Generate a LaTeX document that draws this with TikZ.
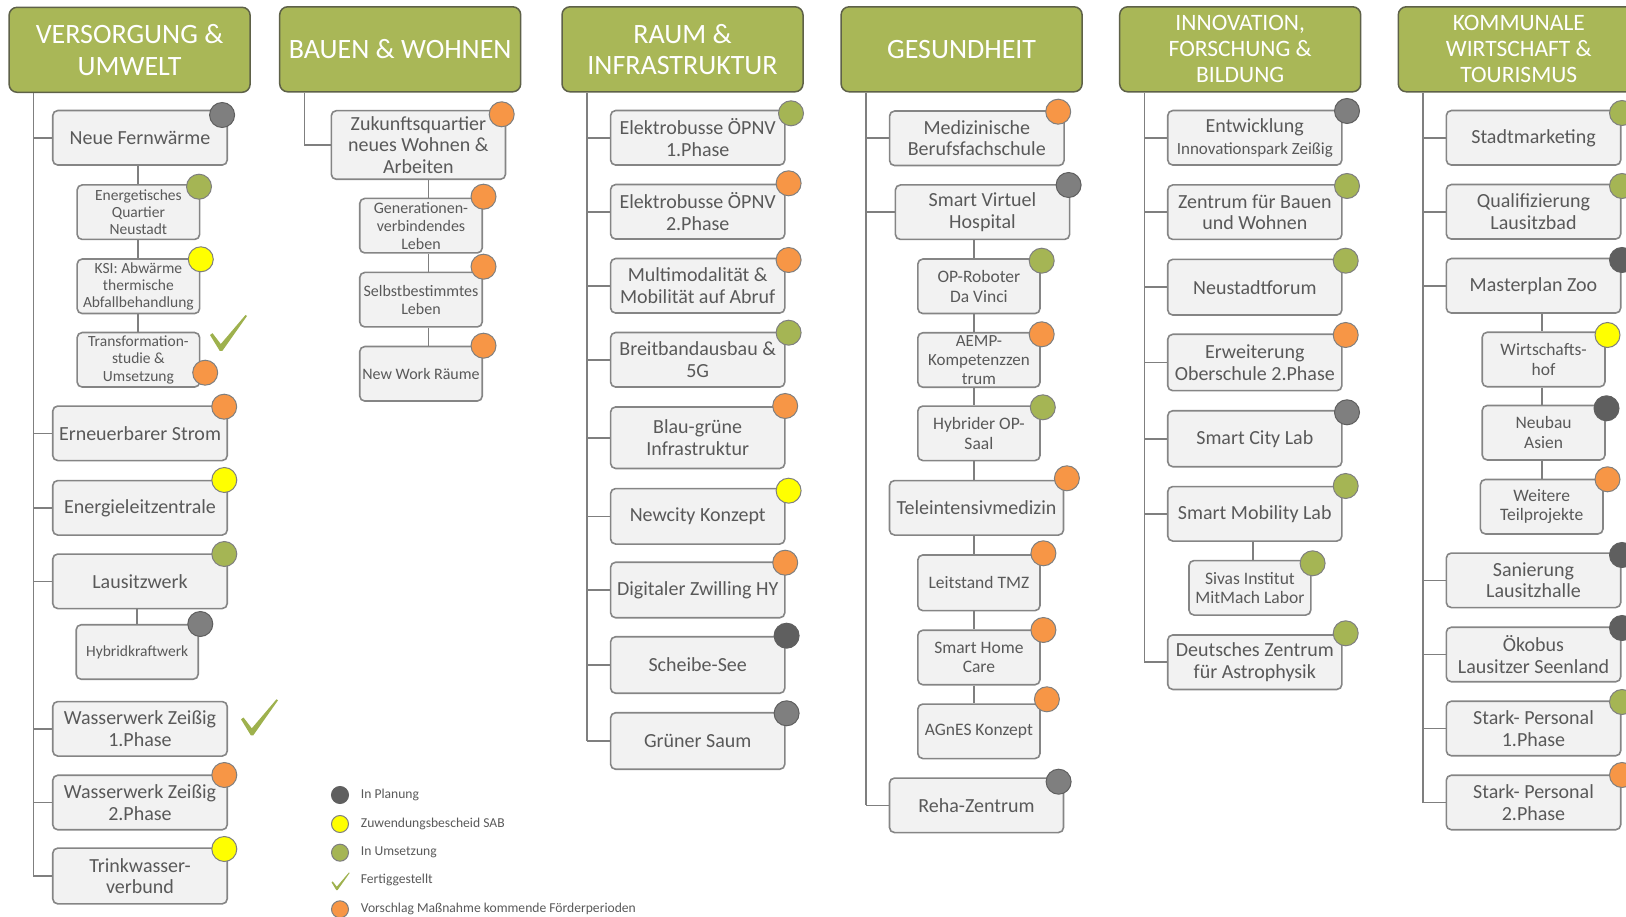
\documentclass[tikz,border=0pt]{standalone}
\usepackage{fontspec}
\setmainfont{Carlito}
\definecolor{hdrgreen}{HTML}{A9B757}
\definecolor{hdrline}{HTML}{5E6148}
\definecolor{dotgreen}{HTML}{A5B554}
\definecolor{dotorange}{HTML}{F79646}
\definecolor{dotyellow}{HTML}{FFFF00}
\definecolor{dotmgray}{HTML}{7F7F7F}
\definecolor{dotdgray}{HTML}{5F5F5F}
\definecolor{boxfill}{HTML}{F2F2F2}
\definecolor{boxline}{HTML}{858585}
\definecolor{linegray}{HTML}{7F7F7F}
\definecolor{txtgray}{HTML}{595959}
\definecolor{checkgreen}{HTML}{9EB14D}
\newcommand\fhdr{\fontsize{28}{31.5}\selectfont}
\newcommand\fhdrs{\fontsize{23.5}{26}\selectfont}
\newcommand\fmain{\fontsize{20}{21.5}\selectfont}
\newcommand\fsubA{\fontsize{15.5}{17.3}\selectfont}
\newcommand\fsubB{\fontsize{16}{18}\selectfont}
\newcommand\fsubC{\fontsize{17.5}{19.5}\selectfont}
\newcommand\fleg{\fontsize{13.6}{15}\selectfont}
\tikzset{
  conn/.style={draw=linegray, line width=1.6},
  hdr/.style={draw=hdrline, line width=1.5, fill=hdrgreen, rounded corners=8,
    minimum width=241, minimum height=85, text=white, align=center, inner sep=2, font=\fhdr},
  mbox/.style={draw=boxline, line width=1.6, fill=boxfill, rounded corners=5,
    minimum width=174.5, minimum height=54.5, align=center, text=txtgray,
    inner xsep=2, inner ysep=1, font=\fmain},
  sbox/.style={mbox, minimum width=122.5},
  dot/.style={circle, draw=dotmgray, line width=1, minimum size=25, inner sep=0},
  dgreen/.style={dot, fill=dotgreen},
  dorange/.style={dot, fill=dotorange},
  dyellow/.style={dot, fill=dotyellow},
  dmgray/.style={dot, fill=dotmgray, draw=dotdgray},
  ddgray/.style={dot, fill=dotdgray, draw=dotdgray},
  ldot/.style={minimum size=17},
  legtext/.style={anchor=west, text=txtgray, font=\fleg, inner sep=0},
  chk/.pic={\fill[checkgreen] (0,20) -- (2.5,18.2) -- (10.8,29) -- (35.5,0) -- (37,1) -- (12.3,36) -- (9.8,36) -- cycle;}
}
\begin{document}
\begin{tikzpicture}[x=1pt, y=-1pt]
\useasboundingbox (0,0) rectangle (1626,917);
\clip (0,0) rectangle (1626,917);

% ---------- headers ----------
\node[hdr] (h1) at (129.6,49.8) {VERSORGUNG \&\\UMWELT};
\node[hdr] (h2) at (400.2,49.3) {BAUEN \& WOHNEN};
\node[hdr] (h3) at (682.5,49.3) {RAUM \&\\INFRASTRUKTUR};
\node[hdr] (h4) at (961.6,49.3) {GESUNDHEIT};
\node[hdr, font=\fhdrs] (h5) at (1240.2,49.3) {INNOVATION,\\FORSCHUNG \&\\BILDUNG};
\node[hdr, font=\fhdrs] (h6) at (1518.8,49.3) {KOMMUNALE\\WIRTSCHAFT \&\\TOURISMUS};

% trunk and chain x positions
\coordinate (t1) at (33.4,0);
\coordinate (t2) at (304.4,0);
\coordinate (t3) at (587.2,0);
\coordinate (t4) at (866.1,0);
\coordinate (t5) at (1144.4,0);
\coordinate (t6) at (1423,0);
\coordinate (c1) at (137.7,0);
\coordinate (c1b) at (136.8,0);
\coordinate (c2) at (428.5,0);
\coordinate (c4) at (973.9,0);
\coordinate (c5) at (1253,0);
\coordinate (c6) at (1542,0);

% ---------- column 1 ----------
\node[mbox] (nf) at (140,137.8) {Neue Fernwärme};
\node[sbox, font=\fsubA] (eq) at (138.4,212.2) {Energetisches\\Quartier\\Neustadt};
\node[sbox, font=\fsubA] (ksi) at (138.4,286.3) {KSI: Abwärme\\thermische\\Abfallbehandlung};
\node[sbox, font=\fsubA] (tr) at (138.4,359.8) {Transformation-\\studie \&\\Umsetzung};
\node[mbox] (er) at (140,433.3) {Erneuerbarer Strom};
\node[mbox] (el) at (140,507.8) {Energieleitzentrale};
\node[mbox] (lw) at (140,581.3) {Lausitzwerk};
\node[sbox, font=\fsubA, minimum width=122] (hk) at (137.2,652) {Hybridkraftwerk};
\node[mbox] (ww1) at (140,728.8) {Wasserwerk Zeißig\\1.Phase};
\node[mbox] (ww2) at (140,802.5) {Wasserwerk Zeißig\\2.Phase};
\node[mbox, minimum height=55.7] (tw) at (140,876) {Trinkwasser-\\verbund};

\draw[conn] (h1.south -| t1) -- (t1 |- tw.west);
\foreach \n in {nf,er,el,lw,ww1,ww2,tw} \draw[conn] (t1 |- \n.west) -- (\n.west);
\draw[conn] (nf.south -| c1) -- (eq.north -| c1);
\draw[conn] (eq.south -| c1) -- (ksi.north -| c1);
\draw[conn] (ksi.south -| c1) -- (tr.north -| c1);
\draw[conn] (lw.south -| c1b) -- (hk.north -| c1b);

\node[dmgray] (nf-d) at (222.1,115) {};
\node[dgreen] (eq-d) at (199,186.7) {};
\node[dyellow] (ksi-d) at (200.8,259.3) {};
\node[dorange] (tr-d) at (205.2,372.7) {};
\node[dorange] (er-d) at (224.2,406.7) {};
\node[dyellow] (el-d) at (224.3,480) {};
\node[dgreen] (lw-d) at (224.3,554) {};
\node[dmgray] (hk-d) at (200.3,624) {};
\node[dorange] (ww2-d) at (224.3,775) {};
\node[dyellow] (tw-d) at (224.3,849) {};
\pic at (210,315) {chk};
\pic at (241,699.3) {chk};

% ---------- column 2 ----------
\node[mbox, minimum width=174.2, minimum height=68.6, inner ysep=0] (zq) at (418.4,145) {Zukunftsquartier\\neues Wohnen \&\\Arbeiten};
\node[sbox, font=\fsubB] (gen) at (421,225.7) {Generationen-\\verbindendes\\Leben};
\node[sbox, font=\fsubB] (sb) at (421,299.7) {Selbstbestimmtes\\Leben};
\node[sbox, font=\fsubB] (nw) at (421,373.8) {New Work Räume};

\draw[conn] (h2.south -| t2) -- (t2 |- zq.west) -- (zq.west);
\draw[conn] (zq.south -| c2) -- (gen.north -| c2);
\draw[conn] (gen.south -| c2) -- (sb.north -| c2);
\draw[conn] (sb.south -| c2) -- (nw.north -| c2);

\node[dorange] (zq-d) at (501.7,114.3) {};
\node[dorange] (gen-d) at (483.5,196.7) {};
\node[dorange] (sb-d) at (483.5,266.7) {};
\node[dorange] (nw-d) at (483.5,345.7) {};

% ---------- column 3 ----------
\node[mbox, minimum width=174.2] (eb1) at (697.7,137.8) {Elektrobusse ÖPNV\\1.Phase};
\node[mbox, minimum width=174.2] (eb2) at (697.7,211.8) {Elektrobusse ÖPNV\\2.Phase};
\node[mbox, minimum width=174.2] (mm) at (697.7,285.8) {Multimodalität \&\\Mobilität auf Abruf};
\node[mbox, minimum width=174.2] (bb) at (697.7,359.8) {Breitbandausbau \&\\5G};
\node[mbox, minimum width=174.2, minimum height=61.5] (bg) at (697.7,437.7) {Blau-grüne\\Infrastruktur};
\node[mbox, minimum width=174.2, minimum height=55.5] (nc) at (697.7,516.3) {Newcity Konzept};
\node[mbox, minimum width=174.2, minimum height=55.5] (dz) at (697.7,590) {Digitaler Zwilling HY};
\node[mbox, minimum width=174.2, minimum height=56.5] (ss) at (697.7,665) {Scheibe-See};
\node[mbox, minimum width=174.2, minimum height=56.5] (gs) at (697.7,741) {Grüner Saum};

\draw[conn] (h3.south -| t3) -- (t3 |- gs.west);
\foreach \n in {eb1,eb2,mm,bb,bg,nc,dz,ss,gs} \draw[conn] (t3 |- \n.west) -- (\n.west);

\node[dgreen] (eb1-d) at (791,113.3) {};
\node[dorange] (eb2-d) at (788.6,183.3) {};
\node[dorange] (mm-d) at (788.6,260) {};
\node[dgreen] (bb-d) at (788.6,332.7) {};
\node[dorange] (bg-d) at (785.2,406) {};
\node[dyellow] (nc-d) at (788.6,490.7) {};
\node[dorange] (dz-d) at (785.2,562.7) {};
\node[ddgray] (ss-d) at (786.6,635.7) {};
\node[dmgray] (gs-d) at (786.6,713.3) {};

% ---------- column 4 ----------
\node[mbox] (med) at (976.8,138.3) {Medizinische\\Berufsfachschule};
\node[mbox, minimum width=174.2] (svh) at (982.5,212.2) {Smart Virtuel\\Hospital};
\node[sbox, font=\fsubC, minimum width=122.2] (op) at (978.9,286.3) {OP-Roboter\\Da Vinci};
\node[sbox, font=\fontsize{17}{18.7}\selectfont, minimum width=122.2, inner ysep=0] (aemp) at (978.9,360) {AEMP-\\Kompetenzzen\\trum};
\node[sbox, font=\fsubC, minimum width=122.2] (hyb) at (978.9,433.3) {Hybrider OP-\\Saal};
\node[mbox, minimum width=174] (tele) at (976.5,507.8) {Teleintensivmedizin};
\node[sbox, font=\fsubC, minimum width=122.2, minimum height=55.7] (lt) at (978.9,582.8) {Leitstand TMZ};
\node[sbox, font=\fsubC, minimum width=122.2] (shc) at (978.9,657.5) {Smart Home\\Care};
\node[sbox, font=\fsubC, minimum width=122.2] (ag) at (978.9,731.3) {AGnES Konzept};
\node[mbox, minimum width=174] (reha) at (976.5,805.3) {Reha-Zentrum};

\draw[conn] (h4.south -| t4) -- (t4 |- reha.west);
\foreach \n in {med,svh,reha} \draw[conn] (t4 |- \n.west) -- (\n.west);
\draw[conn] (svh.south -| c4) -- (op.north -| c4);
\draw[conn] (op.south -| c4) -- (aemp.north -| c4);
\draw[conn] (aemp.south -| c4) -- (hyb.north -| c4);
\draw[conn] (hyb.south -| c4) -- (tele.north -| c4);
\draw[conn] (tele.south -| c4) -- (lt.north -| c4);
\draw[conn] (lt.south -| c4) -- (shc.north -| c4);
\draw[conn] (shc.south -| c4) -- (ag.north -| c4);

\node[dorange] (med-d) at (1058.2,111.7) {};
\node[dmgray] (svh-d) at (1068.6,185) {};
\node[dgreen] (op-d) at (1041.7,260.7) {};
\node[dorange] (aemp-d) at (1041.7,334.3) {};
\node[dgreen] (hyb-d) at (1042.8,407.3) {};
\node[dorange] (tele-d) at (1066.9,478.3) {};
\node[dorange] (lt-d) at (1043.4,553.3) {};
\node[dorange] (shc-d) at (1043.4,630) {};
\node[dorange] (ag-d) at (1046.9,699.3) {};
\node[dmgray] (reha-d) at (1058.6,781.7) {};

% ---------- column 5 ----------
\node[mbox, minimum width=174.1] (ent) at (1254.8,137.8) {Entwicklung\\{\fontsize{17}{18}\selectfont Innovationspark Zeißig}};
\node[mbox, minimum width=174.1] (zfb) at (1254.8,212.2) {Zentrum für Bauen\\und Wohnen};
\node[mbox, minimum width=174.1, minimum height=55.7] (nsf) at (1254.8,287.2) {Neustadtforum};
\node[mbox, minimum width=174.1, minimum height=56.4] (erw) at (1254.8,362.5) {Erweiterung\\Oberschule 2.Phase};
\node[mbox, minimum width=174.1, minimum height=56] (scl) at (1254.8,438.7) {Smart City Lab};
\node[mbox, minimum width=174.1] (sml) at (1254.8,513.8) {Smart Mobility Lab};
\node[sbox, font=\fsubC, minimum width=121.8] (sivas) at (1249.9,587.8) {Sivas Institut\\MitMach Labor};
\node[mbox, minimum width=174.1] (dz2) at (1254.8,662.2) {Deutsches Zentrum\\für Astrophysik};

\draw[conn] (h5.south -| t5) -- (t5 |- dz2.west);
\foreach \n in {ent,zfb,nsf,erw,scl,sml,dz2} \draw[conn] (t5 |- \n.west) -- (\n.west);
\draw[conn] (sml.south -| c5) -- (sivas.north -| c5);

\node[dmgray] (ent-d) at (1347,111) {};
\node[dgreen] (zfb-d) at (1347,186) {};
\node[dgreen] (nsf-d) at (1345.7,260.7) {};
\node[dorange] (erw-d) at (1345.7,335) {};
\node[dmgray] (scl-d) at (1347,412.3) {};
\node[dgreen] (sml-d) at (1345.7,486) {};
\node[dgreen] (sivas-d) at (1312.6,563.3) {};
\node[dgreen] (dz2-d) at (1345.7,633.3) {};

% ---------- column 6 ----------
\node[mbox, minimum width=174.4] (sm) at (1533.5,137.8) {Stadtmarketing};
\node[mbox, minimum width=174.4] (ql) at (1533.5,211.8) {Qualifizierung\\Lausitzbad};
\node[mbox, minimum width=174.4] (mz) at (1533.5,285.8) {Masterplan Zoo};
\node[sbox, font=\fsubC, minimum width=122.8] (wh) at (1543.6,359.5) {Wirtschafts-\\hof};
\node[sbox, font=\fsubC, minimum width=122.8] (na) at (1543.6,432.7) {Neubau\\Asien};
\node[sbox, font=\fsubC, minimum width=122.6] (wt) at (1541.7,506.7) {Weitere\\Teilprojekte};
\node[mbox, minimum width=174.4] (sl) at (1533.5,580.3) {Sanierung\\Lausitzhalle};
\node[mbox, minimum width=174.4] (ok) at (1533.5,654.5) {Ökobus\\Lausitzer Seenland};
\node[mbox, minimum width=174.4] (sp1) at (1533.5,728.5) {Stark- Personal\\1.Phase};
\node[mbox, minimum width=174.4] (sp2) at (1533.5,802.5) {Stark- Personal\\2.Phase};

\draw[conn] (h6.south -| t6) -- (t6 |- sp2.west);
\foreach \n in {sm,ql,mz,sl,ok,sp1,sp2} \draw[conn] (t6 |- \n.west) -- (\n.west);
\draw[conn] (mz.south -| c6) -- (wh.north -| c6);
\draw[conn] (wh.south -| c6) -- (na.north -| c6);
\draw[conn] (na.south -| c6) -- (wt.north -| c6);

\node[dgreen] (sm-d) at (1622,113) {};
\node[dgreen] (ql-d) at (1622,186) {};
\node[ddgray] (mz-d) at (1622,260) {};
\node[dyellow] (wh-d) at (1607.5,335) {};
\node[ddgray] (na-d) at (1606.5,408.3) {};
\node[dorange] (wt-d) at (1607.5,479.3) {};
\node[ddgray] (sl-d) at (1622,555) {};
\node[ddgray] (ok-d) at (1622,628) {};
\node[dgreen] (sp1-d) at (1622,702) {};
\node[dorange] (sp2-d) at (1622,775) {};

% ---------- legend ----------
\node[ddgray, ldot] (lg1) at (340,795) {};
\node[dyellow, ldot] (lg2) at (340,824) {};
\node[dgreen, ldot] (lg3) at (340,852.7) {};
\pic[scale=0.49] at (331.5,872.5) {chk};
\coordinate (lg4) at (340,880);
\node[dorange, ldot] (lg5) at (340,909.3) {};
\node[legtext] (lt1) at (360.7,795) {In Planung};
\node[legtext] (lt2) at (360.7,824) {Zuwendungsbescheid SAB};
\node[legtext] (lt3) at (360.7,852.7) {In Umsetzung};
\node[legtext] (lt4) at (360.7,880) {Fertiggestellt};
\node[legtext] (lt5) at (360.7,909.3) {Vorschlag Maßnahme kommende Förderperioden};
\end{tikzpicture}
\end{document}
